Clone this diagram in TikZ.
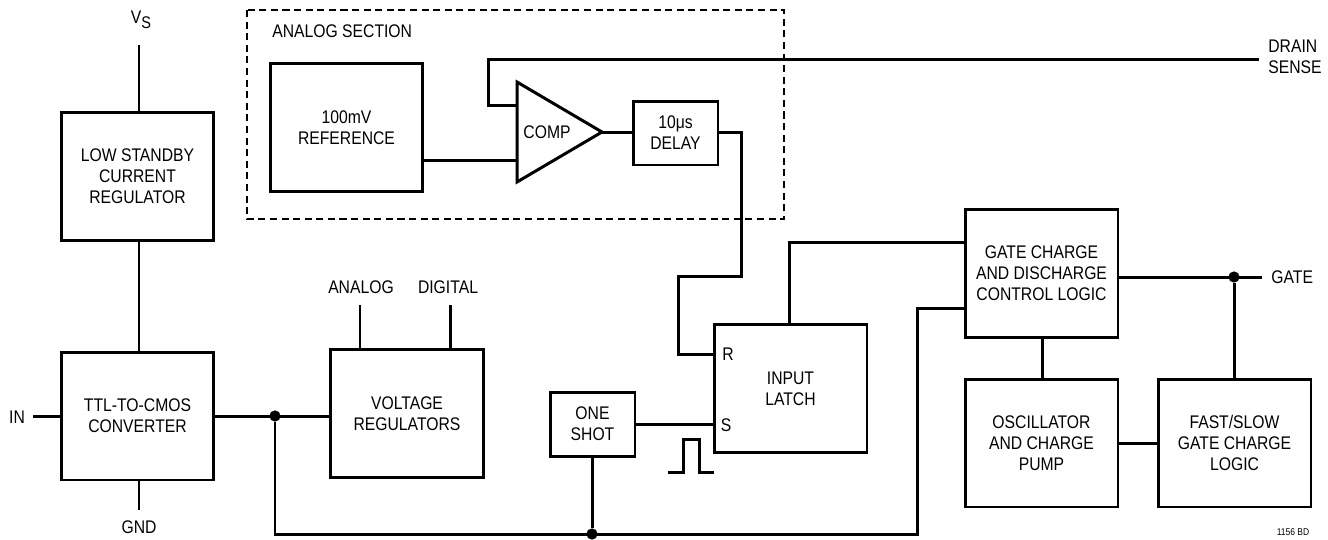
\documentclass[tikz,border=0pt]{standalone}
\usepackage{fontspec}
\setmainfont{Liberation Sans}[FakeStretch=0.86]
\usetikzlibrary{positioning}
\tikzset{
  basic/.style  = {draw, line width=1.7pt, rectangle, align=center, inner sep=0pt,
                   font=\fontsize{10.4}{12}\selectfont},
  block/.style  = {basic, minimum width=3.06cm, minimum height=2.56cm},
  small/.style  = {basic, minimum width=1.7cm, minimum height=1.28cm},
  lbl/.style    = {inner sep=0pt, align=center, font=\fontsize{10.4}{12}\selectfont},
  wire/.style   = {line width=1.7pt},
  dot/.style    = {circle, fill, inner sep=0pt, minimum size=6.4pt}
}

\begin{document}
\begin{tikzpicture}[x=0.02cm, y=-0.02cm]
\useasboundingbox (0,0) rectangle (1328,539);

% analog section frame
\draw[line width=0.85pt, dash pattern=on 4pt off 2.6pt] (247,10) rectangle (784,219);
\node[lbl, anchor=west] (ansec) at (272,31) {ANALOG SECTION};

% blocks
\node[block] (lowreg) at (137.5,176.5) {LOW STANDBY\\CURRENT\\REGULATOR};
\node[block] (ttl)    at (137.5,416)   {TTL-TO-CMOS\\CONVERTER};
\node[block] (volt)   at (407,413.5)   {VOLTAGE\\REGULATORS};
\node[block] (ref)    at (346.5,127.5) {100mV\\REFERENCE};
\node[small] (delay)  at (675.5,133)   {10μs\\DELAY};
\node[small] (oneshot) at (592.5,424)  {ONE\\SHOT};
\node[block] (latch)  at (790.5,388.5) {INPUT\\LATCH};
\node[block] (gatectl) at (1041.5,273.5) {GATE CHARGE\\AND DISCHARGE\\CONTROL LOGIC};
\node[block] (osc)    at (1041.5,443)  {OSCILLATOR\\AND CHARGE\\PUMP};
\node[block] (fast)   at (1234.5,443)  {FAST/SLOW\\GATE CHARGE\\LOGIC};

% comparator
\draw[wire, line join=miter] (517,82) -- (602,132) -- (517,182) -- cycle;
\node[lbl] (comp) at (547,132) {COMP};
\coordinate (cminus) at (517,105);
\coordinate (cplus)  at (517,160);
\coordinate (cout)   at (602,132);

% latch inputs
\coordinate (lr) at (714,354);
\coordinate (ls) at (714,424);
\node[lbl] (rlbl) at (728,354) {R};
\node[lbl] (slbl) at (726,425) {S};

% pin labels
\node[lbl] (vslbl) at (141,20) {V\raisebox{-2.6pt}{\fontsize{9.6}{10}\selectfont S}};
\coordinate (vs) at (139,45);
\node[lbl] (inlbl) at (17,417) {IN};
\coordinate (in) at (33,416);
\node[lbl] (gndlbl) at (139,527) {GND};
\coordinate (gnd) at (139,510);
\node[lbl] (analbl) at (361,287) {ANALOG};
\coordinate (ana) at (360,305);
\node[lbl] (diglbl) at (448,287) {DIGITAL};
\coordinate (dig) at (450,305);
\node[lbl, align=left, anchor=west] (drainlbl) at (1268,57) {DRAIN\\SENSE};
\coordinate (drain) at (1259,59);
\node[lbl, anchor=west] (gatelbl) at (1271,277) {GATE};
\coordinate (gate) at (1262,277);
\node[inner sep=0pt, font=\fontsize{5.6}{6}\selectfont] (fig) at (1293,532) {1156 BD};

% junctions
\node[dot] (j1) at (275,416) {};
\node[dot] (j2) at (592,534) {};
\node[dot] (j3) at (1234,277) {};

% wiring
\draw[wire] (vs) -- (vs |- lowreg.north);
\draw[wire] (lowreg.south -| vs) -- (ttl.north -| vs);
\draw[wire] (in) -- (in -| ttl.west);
\draw[wire] (ttl.south -| gnd) -- (gnd);
\draw[wire] (ttl.east |- j1) -- (volt.west |- j1);
\draw[wire] (ana) -- (ana |- volt.north);
\draw[wire] (dig) -- (dig |- volt.north);
\draw[wire] (j1) -- (j1 |- j2) -- (917,534) -- (917,308) -- (gatectl.west |- 917,308);
\draw[wire] (oneshot.south -| j2) -- (j2);
\draw[wire] (cplus -| ref.east) -- (cplus);
\draw[wire] (drain) -- (488,59) -- (488,105) -- (cminus);
\draw[wire] (cout) -- (cout -| delay.west);
\draw[wire] (delay.east |- cout) -- (741,132) -- (741,276) -- (678,276) -- (678,354) -- (lr);
\draw[wire] (oneshot.east |- ls) -- (ls);
\draw[wire] (789,325) -- (789,242) -- (gatectl.west |- 789,242);
\draw[wire] (gatectl.east |- gate) -- (gate);
\draw[wire] (j3) -- (j3 |- fast.north);
\draw[wire] (gatectl.south -| 1042,0) -- (osc.north -| 1042,0);
\draw[wire] (osc.east) -- (fast.west);

% pulse symbol
\draw[wire, line join=miter] (668,472) -- (683,472) -- (683,439) -- (699,439) -- (699,472) -- (714,472);
\end{tikzpicture}
\end{document}
